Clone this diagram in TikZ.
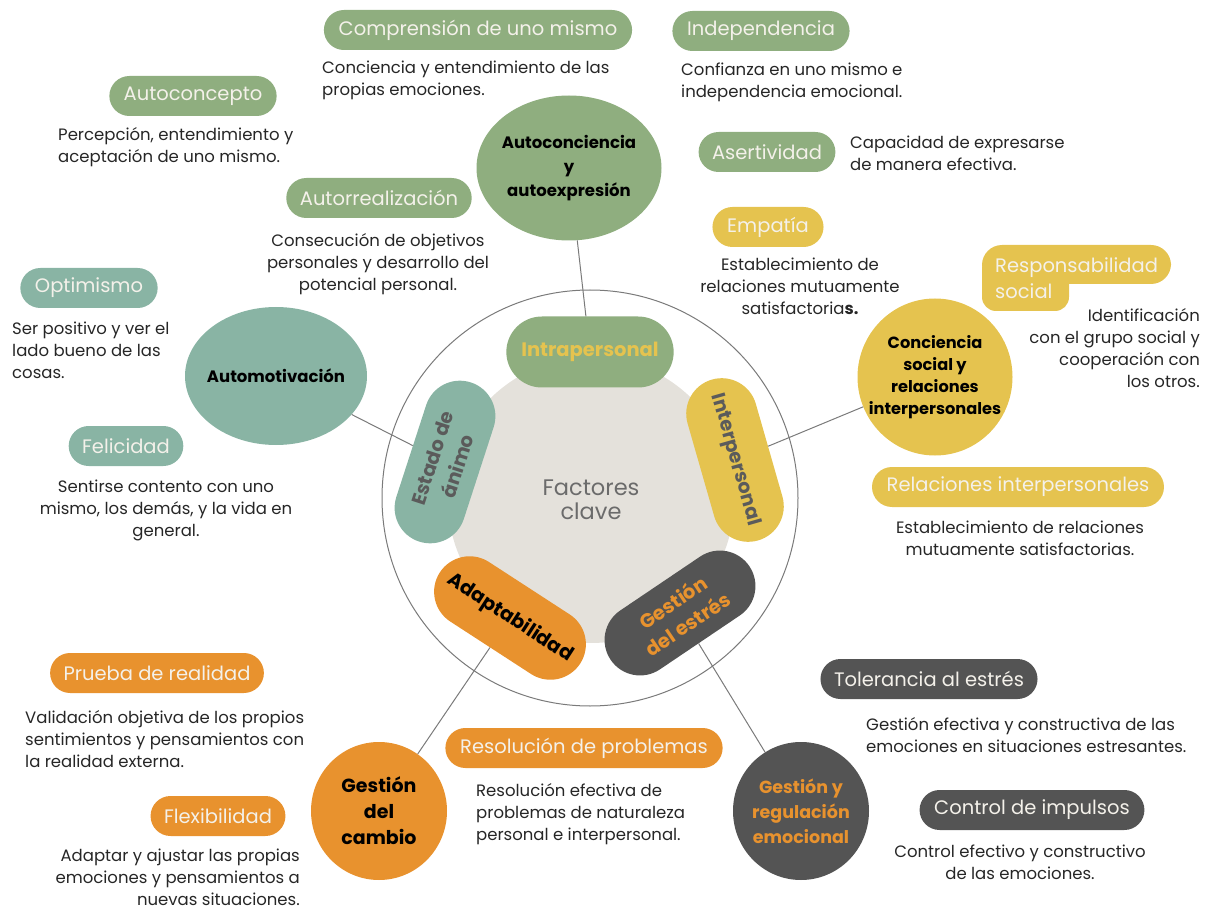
\documentclass[tikz,border=0pt]{standalone}
\usepackage{fontspec}
\setmainfont{Poppins}
\usetikzlibrary{shapes.misc,shapes.geometric}
\definecolor{verde}{HTML}{8FAE7F}
\definecolor{turquesa}{HTML}{89B4A4}
\definecolor{amarillo}{HTML}{E5C34F}
\definecolor{naranja}{HTML}{E8922E}
\definecolor{grisosc}{HTML}{545454}
\definecolor{grisclaro}{HTML}{E4E1DB}
\definecolor{textoclaro}{HTML}{F4F1EA}
\definecolor{texto}{HTML}{262626}
\definecolor{textogris}{HTML}{5B5B5B}
\definecolor{linea}{HTML}{7A7A7A}
\tikzset{
  sub/.style={rounded rectangle, fill=#1, text=textoclaro, font=\fontsize{19.5}{22}\selectfont, minimum height=40, inner xsep=12},
  desc/.style={text=texto, font=\fontsize{16.5}{22}\selectfont, inner sep=0},
  ficha/.style={rounded rectangle, fill=#1, minimum width=174, minimum height=71, align=center, font=\bfseries\fontsize{19.5}{26}\selectfont},
  eje/.style={ellipse, fill=#1, align=center, inner sep=-30pt, font=\bfseries\fontsize{16.5}{24}\selectfont},
  enlace/.style={draw=linea, line width=1},
}
\begin{document}
\begin{tikzpicture}[x=1pt,y=-1pt]
\useasboundingbox (0,0) rectangle (1208,909);
\node[circle, draw=linea, line width=1, minimum size=416] (marco) at (590,498) {};
\node[circle, fill=grisclaro, minimum size=286, align=center, text=textogris!90, font=\fontsize{22.5}{24}\selectfont] (nucleo) at (591,500) {Factores\\clave};
\node[ficha=verde, text=amarillo] (intra) at (590,352) {Intrapersonal};
\node[ficha=amarillo, text=textogris, rotate=-74] (inter) at (735,460) {Interpersonal};
\node[ficha=grisosc, text=naranja, rotate=34] (estres) at (680,613) {Gestión\\del estrés};
\node[ficha=naranja, text=black, rotate=-33] (adapt) at (510,618) {Adaptabilidad};
\node[ficha=turquesa, text=textogris, rotate=72] (animo) at (445,462) {Estado de\\ánimo};
\node[eje=verde, minimum width=185, minimum height=145] (autoconc) at (569,168) {Autoconciencia\\y\\autoexpresión};
\node[eje=turquesa, minimum width=182, minimum height=138] (automot) at (276,376) {Automotivación};
\node[eje=amarillo, minimum width=155, minimum height=157, font=\bfseries\fontsize{16.2}{22}\selectfont] (concsoc) at (935,377) {Conciencia\\social y\\relaciones\\interpersonales};
\node[eje=naranja, minimum width=136, minimum height=138, font=\bfseries\fontsize{19}{26}\selectfont] (cambio) at (379,811) {Gestión\\del\\cambio};
\node[eje=grisosc, text=naranja, minimum width=136, minimum height=138, font=\bfseries\fontsize{17.5}{25}\selectfont] (regul) at (801,811) {Gestión y\\regulación\\emocional};
\draw[enlace] (autoconc) -- (intra);
\draw[enlace] (automot) -- (animo);
\draw[enlace] (concsoc) -- (inter);
\draw[enlace] (cambio) -- (adapt);
\draw[enlace] (regul) -- (estres);
\node[sub=verde] (comp) at (478,30) {Comprensión de uno mismo};
\node[desc, anchor=west, align=left] (compd) at (322,80) {Conciencia y entendimiento de las\\propias emociones.};
\node[sub=verde] (indep) at (761,31) {Independencia};
\node[desc, anchor=west, align=left] (indepd) at (681,82) {Confianza en uno mismo e\\independencia emocional.};
\node[sub=verde] (autocon) at (193,96) {Autoconcepto};
\node[desc, anchor=west, align=left] (autocond) at (58,147) {Percepción, entendimiento y\\aceptación de uno mismo.};
\node[sub=verde] (aserti) at (767,152) {Asertividad};
\node[desc, anchor=west, align=left] (asertid) at (850,153) {Capacidad de expresarse\\de manera efectiva.};
\node[sub=verde] (autorr) at (379,198) {Autorrealización};
\node[desc, align=center] (autorrd) at (378,264) {Consecución de objetivos\\personales y desarrollo del\\potencial personal.};
\node[sub=turquesa] (optim) at (89,288) {Optimismo};
\node[desc, anchor=west, align=left] (optimd) at (12,350) {Ser positivo y ver el\\lado bueno de las\\cosas.};
\node[sub=turquesa] (felic) at (126,446) {Felicidad};
\node[desc, align=center] (felicd) at (166,510) {Sentirse contento con uno\\mismo, los demás, y la vida en\\general.};
\node[sub=amarillo] (empat) at (768,227) {Empatía};
\node[desc, align=center] (empatd) at (800,286) {Establecimiento de\\relaciones mutuamente\\satisfactoria\textbf{s.}};
\fill[amarillo, rounded corners=20] (982,245) rectangle (1171,284);
\fill[amarillo, rounded corners=14] (982,255) rectangle (1069,311);
\node[anchor=west, align=left, inner sep=0, text=textoclaro, font=\fontsize{19.5}{26}\selectfont] (respon) at (995,278) {Responsabilidad\\social};
\node[desc, anchor=east, align=right] (respond) at (1200,348) {Identificación\\con el grupo social y\\cooperación con\\los otros.};
\node[sub=amarillo] (relint) at (1018,487) {Relaciones interpersonales};
\node[desc, align=center] (relintd) at (1020,538) {Establecimiento de relaciones\\mutuamente satisfactorias.};
\node[sub=naranja] (prueba) at (157,673) {Prueba de realidad};
\node[desc, anchor=west, align=left] (pruebad) at (25,739) {Validación objetiva de los propios\\sentimientos y pensamientos con\\la realidad externa.};
\node[sub=naranja] (flex) at (218,816) {Flexibilidad};
\node[desc, anchor=east, align=right] (flexd) at (300,877) {Adaptar y ajustar las propias\\emociones y pensamientos a\\nuevas situaciones.};
\node[sub=naranja] (resol) at (584,748) {Resolución de problemas};
\node[desc, anchor=west, align=left] (resold) at (476,814) {Resolución efectiva de\\problemas de naturaleza\\personal e interpersonal.};
\node[sub=grisosc] (toler) at (929,679) {Tolerancia al estrés};
\node[desc, anchor=west, align=left] (tolerd) at (866,735) {Gestión efectiva y constructiva de las\\emociones en situaciones estresantes.};
\node[sub=grisosc] (control) at (1032,810) {Control de impulsos};
\node[desc, align=center] (controld) at (1020,862) {Control efectivo y constructivo\\de las emociones.};
\end{tikzpicture}
\end{document}
